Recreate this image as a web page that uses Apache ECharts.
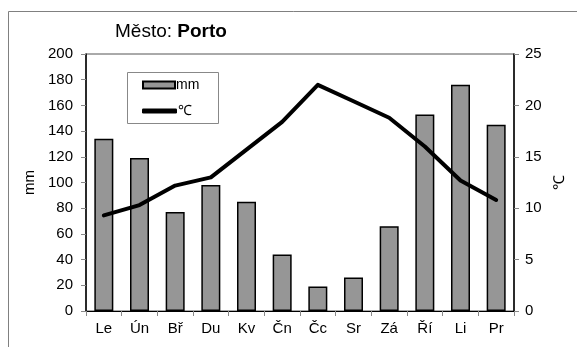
<!DOCTYPE html>
<html>
<head>
<meta charset="utf-8">
<script src="https://cdn.jsdelivr.net/npm/echarts@6/dist/echarts.min.js"></script>
<style>
  html, body { margin: 0; padding: 0; background: #fff; }
  #chart { width: 577px; height: 347px; }
</style>
</head>
<body>
<div id="chart"></div>
<script>
// Monthly climate of Porto: precipitation (bars, left axis) and temperature (line, right axis)
const months = ['Le', 'Ún', 'Bř', 'Du', 'Kv', 'Čn', 'Čc', 'Sr', 'Zá', 'Ří', 'Li', 'Pr'];
const rainMm = [134, 119, 77, 98, 85, 44, 19, 26, 66, 153, 176, 145];
const tempC = [9.3, 10.3, 12.2, 13.0, 15.7, 18.4, 22.0, 20.4, 18.8, 16.0, 12.7, 10.8];

const FONT = 'Liberation Sans, Arial, sans-serif';

const chart = echarts.init(document.getElementById('chart'), null, { renderer: 'canvas' });

const legendText = { fontFamily: FONT, fontSize: 14, color: '#000', padding: [0, 0, 0, -4] };

chart.setOption({
  animation: false,
  backgroundColor: '#fff',
  textStyle: { fontFamily: FONT, color: '#000' },
  title: {
    text: '{r|Město: }{b|Porto}',
    left: 115,
    top: 22,
    padding: 0,
    textStyle: {
      fontWeight: 'normal',
      rich: {
        r: { fontFamily: FONT, fontSize: 19, fontWeight: 'normal', color: '#000' },
        b: { fontFamily: FONT, fontSize: 19, fontWeight: 'bold', color: '#000' }
      }
    }
  },
  graphic: [{
    // outer chart frame
    type: 'rect',
    shape: { x: 8.5, y: 11.5, width: 640, height: 400 },
    style: { fill: 'none', stroke: '#808080', lineWidth: 1 },
    silent: true,
    z: -1
  }, {
    // legend box
    type: 'rect',
    shape: { x: 127.5, y: 72.5, width: 91, height: 51 },
    style: { fill: '#fff', stroke: '#888', lineWidth: 1 },
    silent: true,
    z: 3
  }],
  legend: [{
    orient: 'vertical',
    left: 142,
    top: 78,
    padding: 0,
    itemWidth: 32,
    itemHeight: 7,
    textStyle: legendText,
    data: [{ name: 'mm', icon: 'rect' }],
    z: 4
  }, {
    orient: 'vertical',
    left: 142,
    top: 104,
    padding: 0,
    itemWidth: 35,
    itemHeight: 5,
    textStyle: legendText,
    data: [{ name: '℃', icon: 'roundRect' }],
    z: 4
  }],
  grid: {
    left: 86, right: 63, top: 54, bottom: 36,
    show: true, borderColor: '#555', borderWidth: 1, backgroundColor: 'transparent'
  },
  xAxis: {
    type: 'category',
    data: months,
    axisLine: { lineStyle: { color: '#000', width: 1 } },
    axisTick: { show: true, length: 5, lineStyle: { color: '#888' } },
    axisLabel: { fontFamily: FONT, fontSize: 15, color: '#000', margin: 10 }
  },
  yAxis: [{
    type: 'value',
    min: 0, max: 200, interval: 20,
    name: 'mm',
    nameLocation: 'middle',
    nameGap: 45,
    nameRotate: 90,
    nameTextStyle: { fontFamily: FONT, fontSize: 15, color: '#000' },
    axisLine: { show: true, lineStyle: { color: '#000', width: 1.5 } },
    axisTick: { show: true, length: 5, lineStyle: { color: '#888' } },
    axisLabel: { fontFamily: FONT, fontSize: 15, color: '#000', margin: 13 },
    splitLine: { show: false }
  }, {
    type: 'value',
    min: 0, max: 25, interval: 5,
    name: '℃',
    nameLocation: 'middle',
    nameGap: 38,
    nameRotate: 90,
    nameTextStyle: { fontFamily: FONT, fontSize: 15, color: '#000' },
    axisLine: { show: true, lineStyle: { color: '#000', width: 1.5 } },
    axisTick: { show: true, length: 5, lineStyle: { color: '#888' } },
    axisLabel: { fontFamily: FONT, fontSize: 15, color: '#000', margin: 11 },
    splitLine: { show: false }
  }],
  series: [{
    name: 'mm',
    type: 'bar',
    yAxisIndex: 0,
    data: rainMm,
    barWidth: 19,
    itemStyle: { color: '#969696', borderColor: '#000', borderWidth: 1.5 }
  }, {
    name: '℃',
    type: 'line',
    yAxisIndex: 1,
    data: tempC,
    symbol: 'none',
    smooth: false,
    lineStyle: { color: '#000', width: 4, join: 'round', cap: 'round' },
    itemStyle: { color: '#000' },
    z: 5
  }]
});
</script>
</body>
</html>
